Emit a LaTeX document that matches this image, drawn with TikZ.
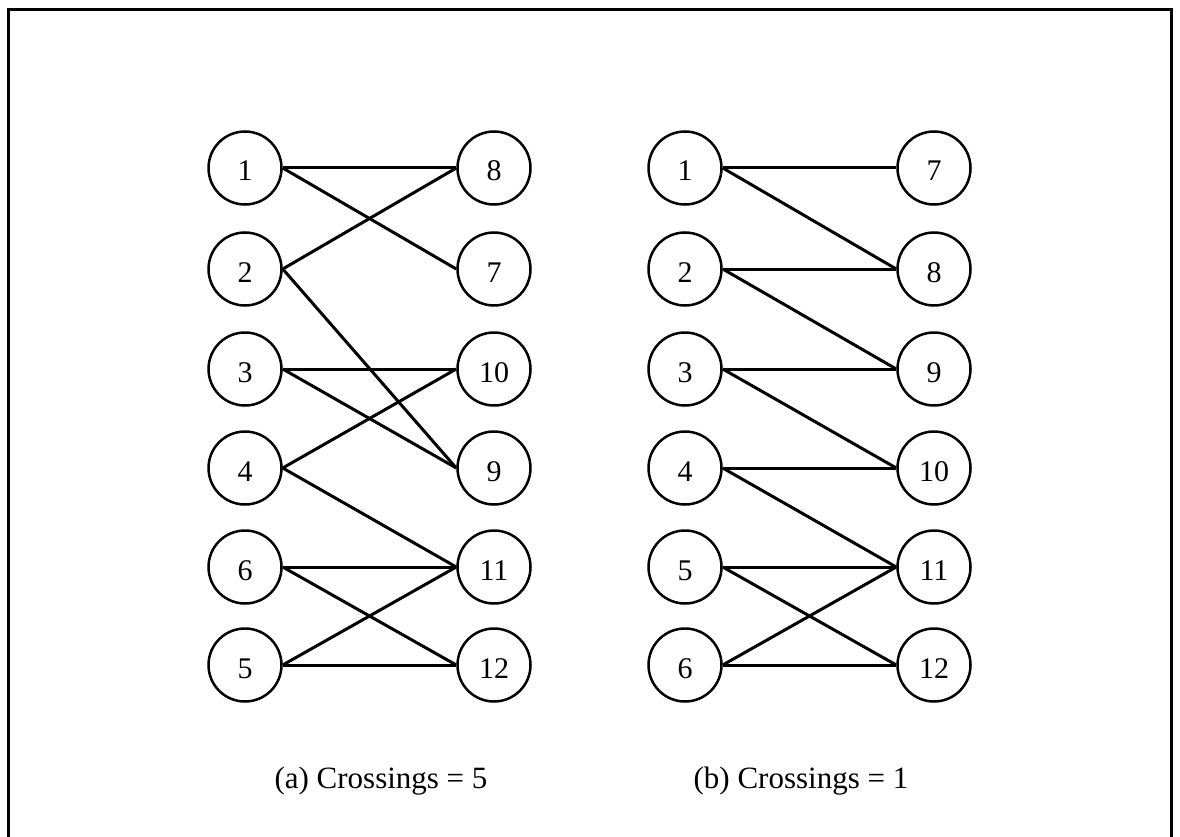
\documentclass[tikz,border=0pt]{standalone}
\usepackage{fontspec}
\setmainfont{Liberation Serif}
\begin{document}
\begin{tikzpicture}[x=1pt,y=-1pt,
  vtx/.style={circle,draw,line width=2.5pt,minimum size=73pt,inner sep=0pt,
    text height=26pt,text depth=0pt,font=\fontsize{30}{34}\selectfont},
  edge/.style={line width=3pt},
  caption/.style={anchor=base,font=\fontsize{31}{36}\selectfont}]
\useasboundingbox (0,0) rectangle (1180,837);
% outer frame (open at the bottom)
\draw[line width=3pt] (8,837) -- (8,10) -- (1171,10) -- (1171,837);

% panel (a)
\foreach \n/\y in {1/168,2/269,3/369,4/468,6/567,5/665}
  \node[vtx] (aL\n) at (245,\y) {\n};
\foreach \n/\y in {8/168,7/269,10/369,9/468,11/567,12/665}
  \node[vtx] (aR\n) at (494,\y) {\n};
\foreach \a/\b in {1/8,1/7,2/8,2/9,3/10,3/9,4/10,4/11,6/11,6/12,5/11,5/12}
  \draw[edge] (aL\a.east) -- (aR\b.west);
\node[caption] (capa) at (381,788) {(a) Crossings = 5};

% panel (b)
\foreach \n/\y in {1/168,2/269,3/369,4/468,5/567,6/665}
  \node[vtx] (bL\n) at (685,\y) {\n};
\foreach \n/\y in {7/168,8/269,9/369,10/468,11/567,12/665}
  \node[vtx] (bR\n) at (934,\y) {\n};
\foreach \a/\b in {1/7,1/8,2/8,2/9,3/9,3/10,4/10,4/11,5/11,5/12,6/11,6/12}
  \draw[edge] (bL\a.east) -- (bR\b.west);
\node[caption] (capb) at (801,788) {(b) Crossings = 1};
\end{tikzpicture}
\end{document}
